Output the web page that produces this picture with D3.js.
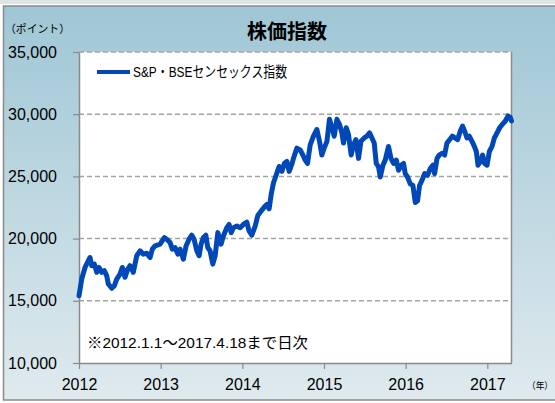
<!DOCTYPE html>
<html>
<head>
<meta charset="utf-8">
<script src="https://cdn.jsdelivr.net/npm/d3@7"></script>
<style>
  html, body { margin: 0; padding: 0; background: #ffffff; }
  svg { display: block; }
  text { font-family: "Liberation Sans", Arial, "Noto Sans CJK JP", sans-serif; fill: #000; }
  .jp { font-family: "Liberation Sans", Arial, "Noto Sans CJK JP", sans-serif; }
</style>
</head>
<body>
<svg id="chart" width="555" height="403"></svg>
<script>
// ---------- data ----------

// decimal year of each reading
const times = [
  2012.000, 2012.033, 2012.074, 2012.114, 2012.135, 2012.156, 2012.188, 2012.217, 2012.245, 2012.278,
  2012.310, 2012.339, 2012.359, 2012.401, 2012.433, 2012.462, 2012.502, 2012.531, 2012.564, 2012.597,
  2012.625, 2012.665, 2012.707, 2012.748, 2012.788, 2012.830, 2012.870, 2012.898, 2012.931, 2012.993,
  2013.045, 2013.075, 2013.115, 2013.143, 2013.176, 2013.210, 2013.238, 2013.278, 2013.311, 2013.348,
  2013.381, 2013.409, 2013.442, 2013.471, 2013.495, 2013.523, 2013.553, 2013.577, 2013.605, 2013.638,
  2013.667, 2013.700, 2013.740, 2013.768, 2013.810, 2013.838, 2013.863, 2013.891, 2013.933, 2013.973,
  2014.013, 2014.055, 2014.083, 2014.116, 2014.157, 2014.190, 2014.230, 2014.271, 2014.300, 2014.328,
  2014.353, 2014.381, 2014.402, 2014.430, 2014.451, 2014.484, 2014.516, 2014.545, 2014.574, 2014.607,
  2014.626, 2014.668, 2014.708, 2014.741, 2014.770, 2014.798, 2014.831, 2014.871, 2014.913, 2014.945,
  2014.974, 2015.002, 2015.036, 2015.067, 2015.097, 2015.125, 2015.158, 2015.190, 2015.219, 2015.239,
  2015.272, 2015.300, 2015.333, 2015.361, 2015.391, 2015.423, 2015.452, 2015.493, 2015.526, 2015.558,
  2015.587, 2015.615, 2015.640, 2015.668, 2015.689, 2015.722, 2015.750, 2015.790, 2015.820, 2015.852,
  2015.885, 2015.913, 2015.946, 2015.974, 2015.995, 2016.023, 2016.056, 2016.089, 2016.118, 2016.146,
  2016.170, 2016.200, 2016.232, 2016.268, 2016.301, 2016.335, 2016.354, 2016.384, 2016.412, 2016.445,
  2016.477, 2016.506, 2016.538, 2016.571, 2016.604, 2016.636, 2016.669, 2016.697, 2016.722, 2016.751,
  2016.779, 2016.812, 2016.841, 2016.865, 2016.886, 2016.914, 2016.942, 2016.967, 2016.996, 2017.025,
  2017.058, 2017.086, 2017.119, 2017.151, 2017.184, 2017.221, 2017.254, 2017.282, 2017.296
];

// S&P BSE Sensex (points)
const sensex = [
  15400, 16750, 17680, 18220, 18480, 17820, 17950, 17290, 17680, 17290,
  17420, 17020, 16350, 16010, 16220, 16750, 17150, 17680, 16890, 17550,
  17820, 17290, 18620, 19020, 18750, 18830, 18480, 19150, 19410, 19550,
  20080, 19950, 19680, 19150, 19280, 18750, 19150, 18350, 19410, 19950,
  20270, 19950, 19020, 18620, 19550, 20080, 20270, 19280, 19020, 17950,
  18620, 20480, 19550, 20210, 20880, 21140, 20480, 20880, 21010, 20880,
  21140, 21330, 20610, 20270, 21010, 21860, 22210, 22550, 22740, 22390,
  23540, 24470, 24870, 25400, 25800, 25400, 26060, 26200, 25400, 26000,
  26450, 27270, 27130, 26720, 26310, 26040, 27540, 28230, 28770, 27820,
  26720, 27270, 27820, 29590, 28910, 28230, 29590, 29180, 28500, 27680,
  28910, 28360, 26720, 27540, 27950, 26450, 27820, 28090, 28230, 28500,
  28090, 27680, 26040, 25770, 24950, 25900, 26310, 27410, 26450, 26040,
  26310, 25490, 25900, 26040, 25220, 24950, 24400, 24270, 22900, 23040,
  24270, 24680, 25220, 25090, 25630, 25900, 25220, 26450, 26720, 26860,
  26720, 27680, 27950, 28230, 28090, 27950, 28640, 29040, 28640, 28090,
  28230, 27820, 27410, 27000, 25900, 26180, 26720, 26040, 25900, 27000,
  27410, 28090, 28500, 28910, 29180, 29450, 29860, 29730, 29450
];

const yTicks = [10000, 15000, 20000, 25000, 30000, 35000];
const xTicks = [2012, 2013, 2014, 2015, 2016, 2017];

const titleText = "株価指数";
const unitText = "（ポイント）";
const yearText = "（年）";
const legendText = "S&P・BSEセンセックス指数";
const noteText = "※2012.1.1～2017.4.18まで日次";

// ---------- layout ----------

const W = 555, H = 403;
const plot = { left: 79, right: 511.5, top: 52, bottom: 363 };
const lineColor = "#0047b8";

const svg = d3.select("#chart");

// gradient for the panel background
const defs = svg.append("defs");
const grad = defs.append("linearGradient")
  .attr("id", "bg").attr("x1", 0).attr("y1", 0).attr("x2", 0).attr("y2", 1);
grad.append("stop").attr("offset", "0%").attr("stop-color", "#9fc6d5");
grad.append("stop").attr("offset", "100%").attr("stop-color", "#dfeaee");

// top strip of the page above the panel
svg.append("rect").attr("x", 0).attr("y", 0).attr("width", W).attr("height", 4)
  .attr("fill", "#dfe5e6");

// panel
svg.append("rect")
  .attr("x", 3.5).attr("y", 6).attr("width", W + 10).attr("height", 394)
  .attr("fill", "url(#bg)")
  .attr("stroke", "#8a8a8a").attr("stroke-width", 1.5);

// plot area
svg.append("rect")
  .attr("x", plot.left).attr("y", plot.top)
  .attr("width", plot.right - plot.left).attr("height", plot.bottom - plot.top)
  .attr("fill", "#ffffff");

// ---------- scales ----------

const x = d3.scaleLinear()
  .domain([2012, 2017.296])
  .range([plot.left, plot.right]);

const y = d3.scaleLinear()
  .domain([10000, 35000])
  .range([plot.bottom, plot.top]);

// ---------- grid ----------

svg.append("g")
  .selectAll("line")
  .data(yTicks.filter((d) => d > 10000))
  .join("line")
  .attr("x1", plot.left).attr("x2", plot.right)
  .attr("y1", (d) => y(d)).attr("y2", (d) => y(d))
  .attr("stroke", "#a3a3a3")
  .attr("stroke-width", 1.5)
  .attr("stroke-dasharray", "5,3");

// right border of the plot
svg.append("line")
  .attr("x1", plot.right).attr("x2", plot.right)
  .attr("y1", plot.top).attr("y2", plot.bottom)
  .attr("stroke", "#8a8a8a").attr("stroke-width", 1.5);

// ---------- axes ----------

const yAxis = svg.append("g")
  .attr("transform", `translate(${plot.left},0)`)
  .call(
    d3.axisLeft(y)
      .tickValues(yTicks)
      .tickFormat(d3.format(","))
      .tickSize(6)
      .tickSizeOuter(0)
      .tickPadding(16)
  );

const xAxis = svg.append("g")
  .attr("transform", `translate(0,${plot.bottom})`)
  .call(
    d3.axisBottom(x)
      .tickValues(xTicks)
      .tickFormat(d3.format("d"))
      .tickSize(6)
      .tickSizeOuter(0)
      .tickPadding(10)
  );

[yAxis, xAxis].forEach((g) => {
  g.select(".domain").attr("stroke", "#8a8a8a").attr("stroke-width", 1.5);
  g.selectAll(".tick line").attr("stroke", "#8a8a8a").attr("stroke-width", 1.2);
  g.selectAll(".tick text")
    .attr("fill", "#000")
    .style("font-size", "16px")
    .style("font-family", '"Liberation Sans", Arial, sans-serif');
});

// ---------- series ----------

const series = times.map((t, i) => ({ t, v: sensex[i] }));

const line = d3.line()
  .x((d) => x(d.t))
  .y((d) => y(d.v));

svg.append("path")
  .datum(series)
  .attr("d", line)
  .attr("fill", "none")
  .attr("stroke", lineColor)
  .attr("stroke-width", 5)
  .attr("stroke-linejoin", "round")
  .attr("stroke-linecap", "round");

// ---------- texts ----------

svg.append("text")
  .attr("x", 287).attr("y", 39)
  .attr("text-anchor", "middle")
  .style("font-family", '"Noto Sans CJK JP", sans-serif')
  .style("font-weight", "bold")
  .style("font-size", "20px")
  .text(titleText);

svg.append("text")
  .attr("x", 5).attr("y", 33)
  .style("font-family", '"Noto Sans CJK JP", sans-serif')
  .style("font-size", "11px")
  .attr("textLength", 65)
  .attr("lengthAdjust", "spacingAndGlyphs")
  .text(unitText);

svg.append("text")
  .attr("x", 527).attr("y", 389)
  .style("font-family", '"Noto Sans CJK JP", sans-serif')
  .style("font-size", "9.5px")
  .attr("textLength", 26)
  .attr("lengthAdjust", "spacingAndGlyphs")
  .text(yearText);

// legend
svg.append("line")
  .attr("x1", 97).attr("x2", 130)
  .attr("y1", 72).attr("y2", 72)
  .attr("stroke", lineColor)
  .attr("stroke-width", 4);

svg.append("text")
  .attr("class", "jp")
  .attr("x", 133).attr("y", 77)
  .style("font-size", "14.5px")
  .attr("textLength", 154)
  .attr("lengthAdjust", "spacingAndGlyphs")
  .text(legendText);

// note
svg.append("text")
  .attr("class", "jp")
  .attr("x", 87).attr("y", 347.5)
  .style("font-size", "15px")
  .attr("textLength", 221)
  .attr("lengthAdjust", "spacingAndGlyphs")
  .text(noteText);
</script>
</body>
</html>
